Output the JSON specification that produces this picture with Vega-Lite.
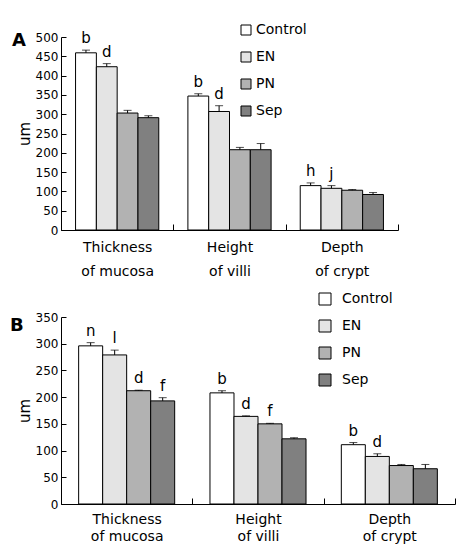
{
  "$schema": "https://vega.github.io/schema/vega-lite/v6.json",
  "background": "white",
  "padding": {"left": 10, "top": 23, "right": 5, "bottom": 5},
  "spacing": 14,
  "config": {
    "font": "DejaVu Sans",
    "view": {"stroke": null},
    "axis": {"labelColor": "black", "titleColor": "black", "domainColor": "black", "tickColor": "black", "grid": false, "labelFont": "DejaVu Sans", "titleFont": "DejaVu Sans"},
    "legend": {"labelColor": "black", "labelFont": "DejaVu Sans"}
  },
  "datasets": {
    "A": [
      {"group": "Thickness|of mucosa", "treat": "Control", "value": 459, "upper": 466, "letter": "b"},
      {"group": "Thickness|of mucosa", "treat": "EN", "value": 423, "upper": 431, "letter": "d"},
      {"group": "Thickness|of mucosa", "treat": "PN", "value": 303, "upper": 310, "letter": ""},
      {"group": "Thickness|of mucosa", "treat": "Sep", "value": 291, "upper": 296, "letter": ""},
      {"group": "Height|of villi", "treat": "Control", "value": 347, "upper": 353, "letter": "b"},
      {"group": "Height|of villi", "treat": "EN", "value": 307, "upper": 322, "letter": "d"},
      {"group": "Height|of villi", "treat": "PN", "value": 208, "upper": 214, "letter": ""},
      {"group": "Height|of villi", "treat": "Sep", "value": 208, "upper": 224, "letter": ""},
      {"group": "Depth|of crypt", "treat": "Control", "value": 115, "upper": 122, "letter": "h"},
      {"group": "Depth|of crypt", "treat": "EN", "value": 108, "upper": 115, "letter": "j"},
      {"group": "Depth|of crypt", "treat": "PN", "value": 103, "upper": 105, "letter": ""},
      {"group": "Depth|of crypt", "treat": "Sep", "value": 92, "upper": 97, "letter": ""}
    ],
    "B": [
      {"group": "Thickness|of mucosa", "treat": "Control", "value": 296, "upper": 302, "letter": "n"},
      {"group": "Thickness|of mucosa", "treat": "EN", "value": 279, "upper": 288, "letter": "l"},
      {"group": "Thickness|of mucosa", "treat": "PN", "value": 212, "upper": 213, "letter": "d"},
      {"group": "Thickness|of mucosa", "treat": "Sep", "value": 193, "upper": 199, "letter": "f"},
      {"group": "Height|of villi", "treat": "Control", "value": 208, "upper": 212, "letter": "b"},
      {"group": "Height|of villi", "treat": "EN", "value": 164, "upper": 165, "letter": "d"},
      {"group": "Height|of villi", "treat": "PN", "value": 150, "upper": 151, "letter": "f"},
      {"group": "Height|of villi", "treat": "Sep", "value": 122, "upper": 124, "letter": ""},
      {"group": "Depth|of crypt", "treat": "Control", "value": 111, "upper": 115, "letter": "b"},
      {"group": "Depth|of crypt", "treat": "EN", "value": 89, "upper": 94, "letter": "d"},
      {"group": "Depth|of crypt", "treat": "PN", "value": 72, "upper": 74, "letter": ""},
      {"group": "Depth|of crypt", "treat": "Sep", "value": 66, "upper": 74, "letter": ""}
    ]
  },
  "resolve": {"scale": {"x": "independent", "y": "independent", "xOffset": "independent", "color": "independent"}, "legend": {"color": "independent"}},
  "vconcat": [
    {
      "width": 337,
      "height": 193,
      "data": {"name": "A"},
      "title": {"text": "A", "anchor": "start", "frame": "bounds", "fontSize": 18, "fontWeight": "bold", "font": "DejaVu Sans", "color": "black", "dx": -5, "dy": 31},
      "encoding": {
        "x": {"field": "group", "type": "nominal", "sort": ["Thickness|of mucosa", "Height|of villi", "Depth|of crypt"],
              "scale": {"paddingInner": 0, "paddingOuter": 0},
              "axis": {"title": null, "labelAngle": 0, "labelExpr": "split(datum.label, '|')", "labelFontSize": 14, "labelLineHeight": 24, "tickBand": "extent", "tickSize": -6, "labelPadding": 16, "domainWidth": 1}}
      },
      "layer": [
        {
          "mark": {"type": "bar", "stroke": "black", "strokeWidth": 1},
          "encoding": {
            "xOffset": {"field": "treat", "type": "nominal", "sort": ["Control", "EN", "PN", "Sep"], "scale": {"paddingInner": 0, "paddingOuter": 0.7}},
            "y": {"field": "value", "type": "quantitative", "scale": {"domain": [0, 500]},
                  "axis": {"title": "um", "titleFontSize": 15, "titleFontWeight": "normal", "titlePadding": 3, "values": [0,50,100,150,200,250,300,350,400,450,500], "labelOverlap": false, "labelFontSize": 12, "tickSize": -5, "labelPadding": 8}},
            "color": {"field": "treat", "type": "nominal", "sort": ["Control", "EN", "PN", "Sep"],
                      "scale": {"domain": ["Control", "EN", "PN", "Sep"], "range": ["#ffffff", "#e4e4e4", "#b2b2b2", "#808080"]},
                      "legend": {"title": null, "orient": "none", "legendX": 178, "legendY": -14, "symbolType": "square", "symbolSize": 100, "symbolStrokeColor": "black", "symbolStrokeWidth": 1, "symbolOpacity": 1, "labelFontSize": 14, "rowPadding": 13, "labelOffset": 3}}
          }
        },
        {
          "mark": {"type": "rule", "color": "black", "strokeWidth": 1},
          "encoding": {
            "xOffset": {"field": "treat", "type": "nominal", "sort": ["Control", "EN", "PN", "Sep"]},
            "y": {"field": "value", "type": "quantitative", "axis": {"title": "um", "values": [0,50,100,150,200,250,300,350,400,450,500]}}, "y2": {"field": "upper"}}
        },
        {
          "mark": {"type": "tick", "color": "black", "thickness": 1, "size": 8},
          "encoding": {
            "xOffset": {"field": "treat", "type": "nominal", "sort": ["Control", "EN", "PN", "Sep"]},
            "y": {"field": "upper", "type": "quantitative", "axis": {"title": "um", "values": [0,50,100,150,200,250,300,350,400,450,500]}}}
        },
        {
          "mark": {"type": "text", "fontSize": 15, "baseline": "alphabetic", "dy": -7, "color": "black"},
          "encoding": {
            "xOffset": {"field": "treat", "type": "nominal", "sort": ["Control", "EN", "PN", "Sep"]},
            "y": {"field": "upper", "type": "quantitative", "axis": {"title": "um", "values": [0,50,100,150,200,250,300,350,400,450,500]}}, "text": {"field": "letter"}}
        }
      ]
    },
    {
      "width": 394,
      "height": 187,
      "data": {"name": "B"},
      "title": {"text": "B", "anchor": "start", "frame": "bounds", "fontSize": 18, "fontWeight": "bold", "font": "DejaVu Sans", "color": "black", "dx": -7, "dy": 47},
      "encoding": {
        "x": {"field": "group", "type": "nominal", "sort": ["Thickness|of mucosa", "Height|of villi", "Depth|of crypt"],
              "scale": {"paddingInner": 0, "paddingOuter": 0},
              "axis": {"title": null, "labelAngle": 0, "labelExpr": "split(datum.label, '|')", "labelFontSize": 14, "labelLineHeight": 17, "tickBand": "extent", "tickSize": -6, "labelPadding": 14, "domainWidth": 1}}
      },
      "layer": [
        {
          "mark": {"type": "bar", "stroke": "black", "strokeWidth": 1},
          "encoding": {
            "xOffset": {"field": "treat", "type": "nominal", "sort": ["Control", "EN", "PN", "Sep"], "scale": {"paddingInner": 0, "paddingOuter": 0.735}},
            "y": {"field": "value", "type": "quantitative", "scale": {"domain": [0, 350]},
                  "axis": {"title": "um", "titleFontSize": 15, "titleFontWeight": "normal", "titlePadding": 3, "values": [0,50,100,150,200,250,300,350], "labelOverlap": false, "labelFontSize": 12, "tickSize": -5, "labelPadding": 8}},
            "color": {"field": "treat", "type": "nominal", "sort": ["Control", "EN", "PN", "Sep"],
                      "scale": {"domain": ["Control", "EN", "PN", "Sep"], "range": ["#ffffff", "#e4e4e4", "#b2b2b2", "#808080"]},
                      "legend": {"title": null, "orient": "none", "legendX": 257, "legendY": -25, "symbolType": "square", "symbolSize": 144, "symbolStrokeColor": "black", "symbolStrokeWidth": 1, "symbolOpacity": 1, "labelFontSize": 14, "rowPadding": 11, "labelOffset": 10}}
          }
        },
        {
          "mark": {"type": "rule", "color": "black", "strokeWidth": 1},
          "encoding": {
            "xOffset": {"field": "treat", "type": "nominal", "sort": ["Control", "EN", "PN", "Sep"]},
            "y": {"field": "value", "type": "quantitative", "axis": {"title": "um", "values": [0,50,100,150,200,250,300,350]}}, "y2": {"field": "upper"}}
        },
        {
          "mark": {"type": "tick", "color": "black", "thickness": 1, "size": 8},
          "encoding": {
            "xOffset": {"field": "treat", "type": "nominal", "sort": ["Control", "EN", "PN", "Sep"]},
            "y": {"field": "upper", "type": "quantitative", "axis": {"title": "um", "values": [0,50,100,150,200,250,300,350]}}}
        },
        {
          "mark": {"type": "text", "fontSize": 15, "baseline": "alphabetic", "dy": -7, "color": "black"},
          "encoding": {
            "xOffset": {"field": "treat", "type": "nominal", "sort": ["Control", "EN", "PN", "Sep"]},
            "y": {"field": "upper", "type": "quantitative", "axis": {"title": "um", "values": [0,50,100,150,200,250,300,350]}}, "text": {"field": "letter"}}
        }
      ]
    }
  ]
}
